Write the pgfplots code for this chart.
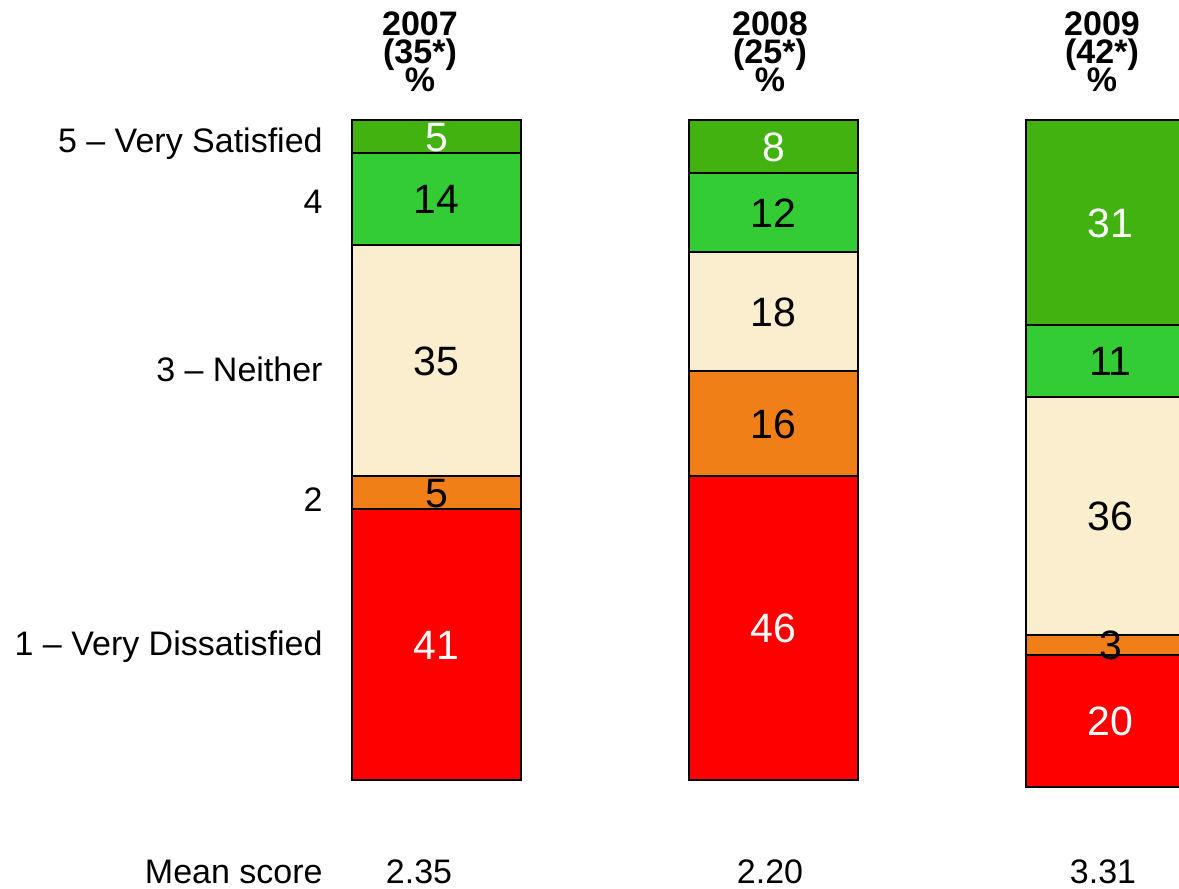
\documentclass[border=0pt]{standalone}
\usepackage{pgfplots}
\pgfplotsset{compat=1.18}
\usepackage{pgfplotstable}
\usepackage{fontspec}
\setmainfont{Liberation Sans}
\definecolor{cDG}{RGB}{65,178,15}
\definecolor{cG}{RGB}{52,204,52}
\definecolor{cB}{RGB}{250,238,207}
\definecolor{cO}{RGB}{241,127,24}
\definecolor{cR}{RGB}{255,0,0}
\pgfplotstableread{
x v
0 5
1 8
2 31
}\sfive
\pgfplotstableread{
x v
0 14
1 12
2 11
}\sfour
\pgfplotstableread{
x v
0 35
1 18
2 36
}\sthree
\pgfplotstableread{
x v
0 5
1 16
2 3
}\stwo
\pgfplotstableread{
x v
0 41
1 46
2 20
}\sone
\pgfplotsset{base/.style={
  scale only axis, width=589.5pt, height=444.5pt,
  xmin=-1.2953, xmax=2.2033, ymin=-18.182, ymax=116.515,
  y dir=reverse, hide axis, clip=true}}
\begin{document}
\begin{tikzpicture}[
  lab/.style={font=\fontsize{17}{20}\selectfont, text height=12.2pt, text depth=0pt, inner sep=0pt},
  val/.style={font=\fontsize{20.5}{24}\selectfont, text height=14.7pt, text depth=0pt, inner sep=0pt},
  hd/.style={font=\fontsize{17}{20}\selectfont\bfseries, text height=12.2pt, text depth=0pt, inner sep=0pt}]
\begin{axis}[
  base,
  ybar stacked, bar width=0.5015,
  every axis plot/.append style={draw=black, line width=1pt},
]
\addplot[fill=cDG] table[x=x,y=v] {\sfive};
\addplot[fill=cG] table[x=x,y=v] {\sfour};
\addplot[fill=cB] table[x=x,y=v] {\sthree};
\addplot[fill=cO] table[x=x,y=v] {\stwo};
\addplot[fill=cR] table[x=x,y=v] {\sone};
\end{axis}
\begin{axis}[base]
% value labels
\node[val,white] at (axis cs:0,2.5) {5};
\node[val] at (axis cs:0,12) {14};
\node[val] at (axis cs:0,36.5) {35};
\node[val] at (axis cs:0,56.5) {5};
\node[val,white] at (axis cs:0,79.5) {41};
\node[val,white] at (axis cs:1,4) {8};
\node[val] at (axis cs:1,14) {12};
\node[val] at (axis cs:1,29) {18};
\node[val] at (axis cs:1,46) {16};
\node[val,white] at (axis cs:1,77) {46};
\node[val,white] at (axis cs:2,15.5) {31};
\node[val] at (axis cs:2,36.5) {11};
\node[val] at (axis cs:2,60) {36};
\node[val] at (axis cs:2,79.5) {3};
\node[val,white] at (axis cs:2,91) {20};
% left labels
\node[lab,anchor=east] at (axis cs:-0.3368,3.11) {5 – Very Satisfied};
\node[lab,anchor=east] at (axis cs:-0.3368,12.38) {4};
\node[lab,anchor=east] at (axis cs:-0.3368,37.73) {3 – Neither};
\node[lab,anchor=east] at (axis cs:-0.3368,57.42) {2};
\node[lab,anchor=east] at (axis cs:-0.3368,79.29) {1 – Very Dissatisfied};
% headers
\node[hd] at (axis cs:-0.049,-14.65) {2007};
\node[hd] at (axis cs:-0.049,-10.44) {(35*)};
\node[hd] at (axis cs:-0.049,-6.14) {\%};
\node[hd] at (axis cs:0.9896,-14.65) {2008};
\node[hd] at (axis cs:0.9896,-10.44) {(25*)};
\node[hd] at (axis cs:0.9896,-6.14) {\%};
\node[hd] at (axis cs:1.9748,-14.65) {2009};
\node[hd] at (axis cs:1.9748,-10.44) {(42*)};
\node[hd] at (axis cs:1.9748,-6.14) {\%};
% mean score
\node[lab,anchor=east] at (axis cs:-0.3368,113.86) {Mean score};
\node[lab] at (axis cs:-0.052,113.86) {2.35};
\node[lab] at (axis cs:0.9896,113.86) {2.20};
\node[lab] at (axis cs:1.9777,113.86) {3.31};
\end{axis}
\pgfresetboundingbox
\path (current axis.south west) rectangle (current axis.north east);
\end{tikzpicture}
\end{document}
